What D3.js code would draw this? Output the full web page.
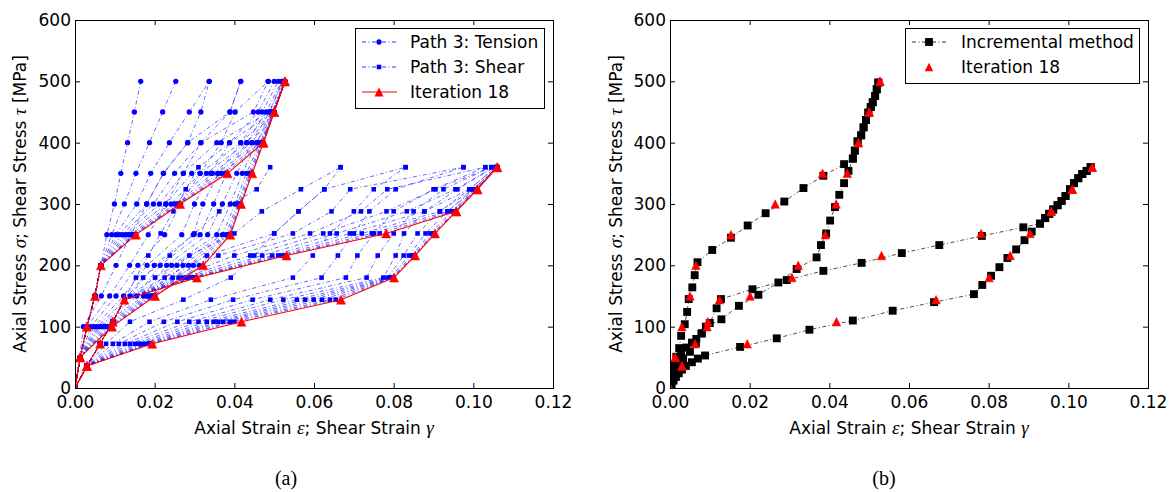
<!DOCTYPE html>
<html>
<head>
<meta charset="utf-8">
<script src="https://cdn.jsdelivr.net/npm/d3@7"></script>
<style>
  body { margin: 0; background: #fff; }
  text { font-family: "DejaVu Sans", sans-serif; fill: #000; }
  .math { font-family: "Liberation Serif", "DejaVu Serif", serif; font-style: italic; }
  .caption { font-family: "Liberation Serif", "Times New Roman", serif; }
</style>
</head>
<body>
<svg id="chart" width="1174" height="492"></svg>
<script>
// *Stress levels of the load steps (tension / shear)
const tensionLevels = [0, 50, 100, 150, 200, 250, 300, 350, 400, 450, 500];
const shearLevels = [0, 36, 72, 108, 144, 180, 216, 252, 288, 324, 360];

const xTicks = [0, 0.02, 0.04, 0.06, 0.08, 0.1, 0.12];
const yTicks = [0, 100, 200, 300, 400, 500, 600];

// *Iterations 1..17, strain at each level above zero
const tension1Iterations = [
  [0.0013, 0.0030, 0.0050, 0.0065, 0.0080, 0.0099, 0.0115, 0.0132, 0.0149, 0.0165],
  [0.0013, 0.0030, 0.0050, 0.0065, 0.0092, 0.0124, 0.0153, 0.0187, 0.0220, 0.0253],
  [0.0013, 0.0030, 0.0050, 0.0065, 0.0102, 0.0155, 0.0190, 0.0237, 0.0287, 0.0337],
  [0.0013, 0.0030, 0.0050, 0.0065, 0.0110, 0.0180, 0.0222, 0.0283, 0.0389, 0.0416],
  [0.0013, 0.0030, 0.0050, 0.0065, 0.0118, 0.0197, 0.0250, 0.0316, 0.0448, 0.0485],
  [0.0013, 0.0030, 0.0050, 0.0065, 0.0126, 0.0212, 0.0272, 0.0356, 0.0488, 0.0520],
  [0.0013, 0.0030, 0.0050, 0.0065, 0.0133, 0.0228, 0.0293, 0.0388, 0.0495, 0.0525],
  [0.0013, 0.0030, 0.0050, 0.0065, 0.0140, 0.0241, 0.0314, 0.0416, 0.0498, 0.0527],
  [0.0013, 0.0030, 0.0050, 0.0065, 0.0145, 0.0250, 0.0330, 0.0431, 0.0500, 0.0527],
  [0.0013, 0.0030, 0.0050, 0.0065, 0.0148, 0.0256, 0.0345, 0.0444, 0.0500, 0.0527],
  [0.0013, 0.0030, 0.0050, 0.0065, 0.0151, 0.0260, 0.0358, 0.0456, 0.0500, 0.0527],
  [0.0013, 0.0030, 0.0050, 0.0065, 0.0152, 0.0262, 0.0368, 0.0465, 0.0500, 0.0527],
  [0.0013, 0.0030, 0.0050, 0.0065, 0.0153, 0.0263, 0.0376, 0.0470, 0.0500, 0.0527]
];
const tension2Iterations = [
  [0.0012, 0.0021, 0.0066, 0.0103, 0.0140, 0.0180, 0.0222, 0.0283, 0.0316, 0.0337],
  [0.0013, 0.0030, 0.0087, 0.0137, 0.0184, 0.0228, 0.0272, 0.0316, 0.0389, 0.0416],
  [0.0013, 0.0040, 0.0103, 0.0158, 0.0225, 0.0265, 0.0314, 0.0367, 0.0402, 0.0485],
  [0.0013, 0.0048, 0.0122, 0.0181, 0.0268, 0.0300, 0.0340, 0.0388, 0.0460, 0.0500],
  [0.0013, 0.0055, 0.0138, 0.0199, 0.0297, 0.0321, 0.0360, 0.0416, 0.0470, 0.0510],
  [0.0013, 0.0060, 0.0155, 0.0214, 0.0314, 0.0348, 0.0380, 0.0431, 0.0480, 0.0518],
  [0.0013, 0.0065, 0.0172, 0.0230, 0.0333, 0.0370, 0.0406, 0.0444, 0.0488, 0.0522],
  [0.0013, 0.0072, 0.0180, 0.0243, 0.0356, 0.0390, 0.0420, 0.0456, 0.0495, 0.0525],
  [0.0013, 0.0078, 0.0185, 0.0256, 0.0370, 0.0402, 0.0430, 0.0464, 0.0498, 0.0527],
  [0.0013, 0.0083, 0.0190, 0.0271, 0.0378, 0.0408, 0.0436, 0.0468, 0.0500, 0.0527],
  [0.0013, 0.0087, 0.0194, 0.0285, 0.0383, 0.0412, 0.0440, 0.0470, 0.0500, 0.0527],
  [0.0013, 0.0090, 0.0197, 0.0297, 0.0386, 0.0415, 0.0443, 0.0472, 0.0500, 0.0527],
  [0.0013, 0.0092, 0.0200, 0.0312, 0.0389, 0.0416, 0.0444, 0.0473, 0.0500, 0.0527]
];
const shear1Iterations = [
  [0.003, 0.0063, 0.0095, 0.0124, 0.0153, 0.0184, 0.0215, 0.0247, 0.0278, 0.0310],
  [0.003, 0.0063, 0.0095, 0.0124, 0.0171, 0.0238, 0.0300, 0.0362, 0.0456, 0.0490],
  [0.003, 0.0063, 0.0095, 0.0124, 0.0201, 0.0287, 0.0400, 0.0469, 0.0567, 0.0667],
  [0.003, 0.0063, 0.0095, 0.0124, 0.0225, 0.0331, 0.0500, 0.0561, 0.0626, 0.0830],
  [0.003, 0.0063, 0.0095, 0.0124, 0.0245, 0.0360, 0.0547, 0.0644, 0.0691, 0.0975],
  [0.003, 0.0063, 0.0095, 0.0124, 0.0260, 0.0400, 0.0590, 0.0718, 0.0784, 0.1030],
  [0.003, 0.0063, 0.0095, 0.0124, 0.0272, 0.0440, 0.0623, 0.0782, 0.0905, 0.1045],
  [0.003, 0.0063, 0.0095, 0.0124, 0.0282, 0.0470, 0.0657, 0.0833, 0.0955, 0.1052],
  [0.003, 0.0063, 0.0095, 0.0124, 0.0290, 0.0495, 0.0690, 0.0877, 0.0990, 0.1057],
  [0.003, 0.0063, 0.0095, 0.0124, 0.0296, 0.0510, 0.0720, 0.0916, 0.1000, 0.1060],
  [0.003, 0.0063, 0.0095, 0.0124, 0.0300, 0.0520, 0.0745, 0.0935, 0.1005, 0.1060],
  [0.003, 0.0063, 0.0095, 0.0124, 0.0303, 0.0526, 0.0765, 0.0948, 0.1008, 0.1060]
];
const shear2Iterations = [
  [0.003, 0.0078, 0.0138, 0.0272, 0.0391, 0.0450, 0.0500, 0.0561, 0.0626, 0.0667],
  [0.003, 0.0095, 0.0187, 0.0341, 0.0547, 0.0597, 0.0640, 0.0700, 0.0750, 0.0830],
  [0.003, 0.0110, 0.0223, 0.0397, 0.0619, 0.0660, 0.0700, 0.0739, 0.0805, 0.0975],
  [0.003, 0.0125, 0.0257, 0.0446, 0.0680, 0.0709, 0.0750, 0.0800, 0.0900, 0.1030],
  [0.003, 0.0138, 0.0287, 0.0490, 0.0732, 0.0760, 0.0800, 0.0850, 0.0925, 0.1045],
  [0.003, 0.0150, 0.0310, 0.0523, 0.0774, 0.0805, 0.0826, 0.0877, 0.0960, 0.1052],
  [0.003, 0.0160, 0.0331, 0.0557, 0.0785, 0.0825, 0.0860, 0.0916, 0.0990, 0.1057],
  [0.003, 0.0170, 0.0348, 0.0578, 0.0792, 0.0838, 0.0880, 0.0935, 0.1000, 0.1060],
  [0.003, 0.0178, 0.0360, 0.0599, 0.0796, 0.0845, 0.0892, 0.0946, 0.1005, 0.1060],
  [0.003, 0.0184, 0.0372, 0.0620, 0.0798, 0.0850, 0.0898, 0.0952, 0.1008, 0.1060],
  [0.003, 0.0188, 0.0389, 0.0640, 0.0800, 0.0852, 0.0901, 0.0955, 0.1009, 0.1060],
  [0.003, 0.0191, 0.0400, 0.0655, 0.0800, 0.0853, 0.0903, 0.0956, 0.1010, 0.1060]
];

// *Iteration 18 (final) strains, one per level incl. zero
const iter18Tension1 = [0, 0.0013, 0.0030, 0.0050, 0.0065, 0.0153, 0.0264, 0.0383, 0.0473, 0.0500, 0.0527];
const iter18Tension2 = [0, 0.0013, 0.0093, 0.0201, 0.0322, 0.0390, 0.0417, 0.0445, 0.0473, 0.0500, 0.0527];
const iter18Shear1 = [0, 0.0030, 0.0063, 0.0095, 0.0124, 0.0306, 0.0531, 0.0781, 0.0957, 0.1010, 0.1060];
const iter18Shear2 = [0, 0.0030, 0.0194, 0.0418, 0.0668, 0.0801, 0.0854, 0.0904, 0.0957, 0.1010, 0.1060];

// *Incremental method [strain, stress] (panel b)
const incTension1 = [[0, 0], [0.0003, 12], [0.0007, 25], [0.001, 37], [0.0016, 51], [0.0023, 65],
  [0.0028, 85], [0.0037, 104], [0.0043, 124], [0.0047, 145], [0.0056, 164], [0.0062, 184],
  [0.0069, 205], [0.0106, 225], [0.0153, 245], [0.0195, 265], [0.024, 285], [0.0287, 304],
  [0.0335, 326], [0.0385, 346], [0.0437, 365], [0.0459, 374], [0.0464, 387], [0.0471, 402],
  [0.048, 412], [0.0486, 425], [0.0492, 437], [0.0498, 449], [0.0504, 458], [0.0509, 466],
  [0.0515, 476], [0.0519, 487], [0.0523, 498]];
const incTension2 = [[0, 0], [0.0004, 12], [0.0008, 25], [0.0012, 37], [0.0017, 48], [0.0028, 58],
  [0.0041, 66], [0.0055, 74], [0.0066, 80], [0.0079, 89], [0.009, 100], [0.0129, 112],
  [0.0173, 134], [0.0222, 152], [0.0272, 172], [0.0318, 194], [0.0368, 213], [0.0379, 233],
  [0.0392, 252], [0.0402, 273], [0.0414, 295], [0.0425, 315], [0.0437, 334], [0.0448, 354],
  [0.0459, 374], [0.0464, 387], [0.0471, 402], [0.048, 412], [0.0486, 425], [0.0492, 437],
  [0.0498, 449], [0.0504, 458], [0.0509, 466], [0.0515, 476], [0.0519, 487], [0.0523, 498]];
const incShear1 = [[0, 0], [0.0003, 8], [0.0007, 16], [0.0012, 24], [0.0018, 32], [0.0025, 40],
  [0.0033, 48], [0.005, 59], [0.0065, 73], [0.008, 89], [0.01, 106], [0.0117, 130], [0.0128, 145],
  [0.0207, 161], [0.0293, 176], [0.0385, 191], [0.0481, 204], [0.0582, 220], [0.0676, 233],
  [0.0783, 248], [0.0887, 262], [0.0929, 268], [0.0942, 277], [0.0952, 284], [0.0962, 291],
  [0.0973, 298], [0.0983, 305], [0.0993, 313], [0.1004, 324], [0.1014, 334], [0.1025, 342],
  [0.1035, 349], [0.1046, 354], [0.1056, 360]];
const incShear2 = [[0, 0], [0.0004, 6], [0.0009, 12], [0.0015, 18], [0.0022, 24], [0.003, 30],
  [0.004, 36], [0.0055, 42], [0.007, 48], [0.0088, 53], [0.0176, 67], [0.0268, 81], [0.035, 95],
  [0.0459, 110], [0.0559, 126], [0.0663, 140], [0.0763, 153], [0.0784, 168], [0.0806, 183],
  [0.0827, 197], [0.0847, 212], [0.0869, 226], [0.089, 241], [0.0908, 255], [0.0929, 268],
  [0.0942, 277], [0.0952, 284], [0.0962, 291], [0.0973, 298], [0.0983, 305], [0.0993, 313],
  [0.1004, 324], [0.1014, 334], [0.1025, 342], [0.1035, 349], [0.1046, 354], [0.1056, 360]];

// *Layout
const plotTop = 20, plotBottom = 388;
const svg = d3.select("#chart");

const blue = "#0000ff", red = "#ff0000";
const dashDot = "4,2.5,1,2.5";

function triPath(w) {
  const h = w / 2;
  return "M0," + (-h) + "L" + h + "," + h + "L" + (-h) + "," + h + "Z";
}
const circleSym = d3.symbol().type(d3.symbolCircle).size(22)();
const smallSquare = d3.symbol().type(d3.symbolSquare).size(21)();
const bigSquare = d3.symbol().type(d3.symbolSquare).size(62)();

function makePanel(left, right, id) {
  const x = d3.scaleLinear().domain([0, 0.12]).range([left, right]);
  const y = d3.scaleLinear().domain([0, 600]).range([plotBottom, plotTop]);

  svg.append("clipPath").attr("id", id)
    .append("rect").attr("x", left).attr("y", plotTop)
    .attr("width", right - left).attr("height", plotBottom - plotTop);

  const plot = svg.append("g").attr("clip-path", "url(#" + id + ")");
  return { x, y, plot, left, right };
}

function drawAxes(p, ylabX) {
  const fmt = d3.format(".2f");
  const gx = svg.append("g").attr("transform", "translate(0," + plotBottom + ")")
    .call(d3.axisBottom(p.x).tickValues(xTicks).tickFormat(fmt)
      .tickSizeInner(-5).tickSizeOuter(0).tickPadding(8));
  svg.append("g").attr("transform", "translate(0," + plotTop + ")")
    .call(d3.axisTop(p.x).tickValues(xTicks).tickFormat("").tickSizeInner(-5).tickSizeOuter(0));
  const gy = svg.append("g").attr("transform", "translate(" + p.left + ",0)")
    .call(d3.axisLeft(p.y).tickValues(yTicks).tickSizeInner(-5).tickSizeOuter(0).tickPadding(4));
  svg.append("g").attr("transform", "translate(" + p.right + ",0)")
    .call(d3.axisRight(p.y).tickValues(yTicks).tickFormat("").tickSizeInner(-5).tickSizeOuter(0));

  svg.selectAll(".domain").remove();
  [gx, gy].forEach(function (g) {
    g.selectAll("text").attr("font-size", 17).attr("font-family", "DejaVu Sans, sans-serif");
  });
  svg.selectAll(".tick line").attr("stroke", "#000").attr("stroke-width", 1);

  // frame
  svg.append("rect")
    .attr("x", p.left + 0.5).attr("y", plotTop + 0.5)
    .attr("width", p.right - p.left).attr("height", plotBottom - plotTop)
    .attr("fill", "none").attr("stroke", "#000").attr("stroke-width", 1);

  // x label
  const xl = svg.append("text")
    .attr("x", (p.left + p.right) / 2).attr("y", 434)
    .attr("text-anchor", "middle").attr("font-size", 17);
  xl.append("tspan").text("Axial Strain ");
  xl.append("tspan").attr("class", "math").attr("font-size", 19).text("\u03b5");
  xl.append("tspan").text("; Shear Strain ");
  xl.append("tspan").attr("class", "math").attr("font-size", 19).text("\u03b3");

  // y label
  const yl = svg.append("text")
    .attr("transform", "translate(" + ylabX + "," + (plotTop + plotBottom) / 2 + ") rotate(-90)")
    .attr("text-anchor", "middle").attr("font-size", 17);
  yl.append("tspan").text("Axial Stress ");
  yl.append("tspan").attr("class", "math").attr("font-size", 19).text("\u03c3");
  yl.append("tspan").text("; Shear Stress ");
  yl.append("tspan").attr("class", "math").attr("font-size", 19).text("\u03c4");
  yl.append("tspan").text(" [MPa]");
}

function iterLines(p, iterations, levels, marker) {
  const line = d3.line().x(function (d) { return p.x(d[0]); }).y(function (d) { return p.y(d[1]); });
  iterations.forEach(function (it) {
    const pts = [0].concat(it).map(function (e, i) { return [e, levels[i]]; });
    p.plot.append("path").attr("d", line(pts))
      .attr("fill", "none").attr("stroke", blue).attr("stroke-width", 0.6)
      .attr("stroke-dasharray", dashDot);
    p.plot.selectAll(null).data(pts).enter().append("path")
      .attr("d", marker)
      .attr("transform", function (d) { return "translate(" + p.x(d[0]) + "," + p.y(d[1]) + ")"; })
      .attr("fill", blue);
  });
}

function redCurve(p, strains, levels, withLine, size) {
  const pts = strains.map(function (e, i) { return [e, levels[i]]; });
  if (withLine) {
    p.plot.append("path")
      .attr("d", d3.line().x(function (d) { return p.x(d[0]); }).y(function (d) { return p.y(d[1]); })(pts))
      .attr("fill", "none").attr("stroke", red).attr("stroke-width", 1.1);
  }
  p.plot.selectAll(null).data(pts).enter().append("path")
    .attr("d", triPath(size))
    .attr("transform", function (d) { return "translate(" + p.x(d[0]) + "," + p.y(d[1]) + ")"; })
    .attr("fill", red).attr("stroke", red).attr("stroke-width", 0.5);
}

function incCurve(p, pts) {
  p.plot.append("path")
    .attr("d", d3.line().x(function (d) { return p.x(d[0]); }).y(function (d) { return p.y(d[1]); })(pts))
    .attr("fill", "none").attr("stroke", "#000").attr("stroke-width", 0.7)
    .attr("stroke-dasharray", dashDot);
  p.plot.selectAll(null).data(pts).enter().append("path")
    .attr("d", bigSquare)
    .attr("transform", function (d) { return "translate(" + p.x(d[0]) + "," + p.y(d[1]) + ")"; })
    .attr("fill", "#000");
}

// ! Panel (a)
const pa = makePanel(75, 553, "clipA");
iterLines(pa, tension1Iterations, tensionLevels, circleSym);
iterLines(pa, tension2Iterations, tensionLevels, circleSym);
iterLines(pa, shear1Iterations, shearLevels, smallSquare);
iterLines(pa, shear2Iterations, shearLevels, smallSquare);
redCurve(pa, iter18Tension1, tensionLevels, true, 9);
redCurve(pa, iter18Tension2, tensionLevels, true, 9);
redCurve(pa, iter18Shear1, shearLevels, true, 9);
redCurve(pa, iter18Shear2, shearLevels, true, 9);
drawAxes(pa, 26);

// legend (a)
const la = svg.append("g");
la.append("rect").attr("x", 355.5).attr("y", 28.5).attr("width", 189).attr("height", 80)
  .attr("fill", "#fff").attr("stroke", "#000").attr("stroke-width", 1);
[["Path 3: Tension", circleSym, blue, true], ["Path 3: Shear", smallSquare, blue, true],
 ["Iteration 18", triPath(9), red, false]].forEach(function (e, i) {
  const cy = 42 + i * 25;
  la.append("line").attr("x1", 362).attr("x2", 397).attr("y1", cy).attr("y2", cy)
    .attr("stroke", e[2]).attr("stroke-width", e[3] ? 0.8 : 1.1)
    .attr("stroke-dasharray", e[3] ? dashDot : null);
  la.append("path").attr("d", e[1]).attr("transform", "translate(379," + cy + ")").attr("fill", e[2]);
  la.append("text").attr("x", 410).attr("y", cy).attr("dy", "0.36em").attr("font-size", 17).text(e[0]);
});

// ! Panel (b)
const pb = makePanel(670, 1148, "clipB");
incCurve(pb, incTension1);
incCurve(pb, incTension2);
incCurve(pb, incShear1);
incCurve(pb, incShear2);
redCurve(pb, iter18Tension1, tensionLevels, false, 8.5);
redCurve(pb, iter18Tension2, tensionLevels, false, 8.5);
redCurve(pb, iter18Shear1, shearLevels, false, 8.5);
redCurve(pb, iter18Shear2, shearLevels, false, 8.5);
drawAxes(pb, 622);

// legend (b)
const lb = svg.append("g");
lb.append("rect").attr("x", 905.5).attr("y", 28.5).attr("width", 234).attr("height", 55)
  .attr("fill", "#fff").attr("stroke", "#000").attr("stroke-width", 1);
lb.append("line").attr("x1", 912).attr("x2", 946).attr("y1", 42).attr("y2", 42)
  .attr("stroke", "#000").attr("stroke-width", 0.8).attr("stroke-dasharray", dashDot);
lb.append("path").attr("d", bigSquare).attr("transform", "translate(929,42)").attr("fill", "#000");
lb.append("text").attr("x", 961).attr("y", 42).attr("dy", "0.36em").attr("font-size", 17).text("Incremental method");
lb.append("path").attr("d", triPath(8.5)).attr("transform", "translate(929,67)").attr("fill", red);
lb.append("text").attr("x", 961).attr("y", 67).attr("dy", "0.36em").attr("font-size", 17).text("Iteration 18");

// captions
svg.append("text").attr("class", "caption").attr("x", 286).attr("y", 485)
  .attr("text-anchor", "middle").attr("font-size", 20).text("(a)");
svg.append("text").attr("class", "caption").attr("x", 884).attr("y", 485)
  .attr("text-anchor", "middle").attr("font-size", 20).text("(b)");
</script>
</body>
</html>
